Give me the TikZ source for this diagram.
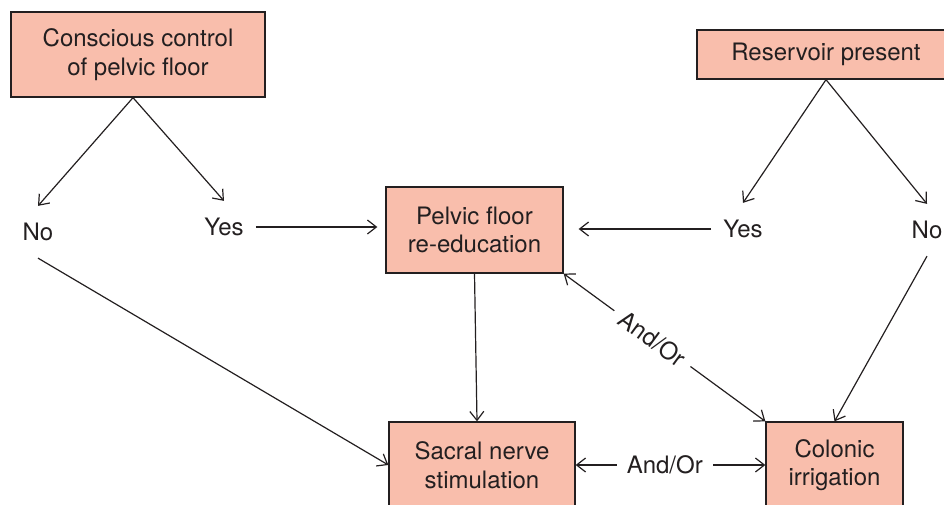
\documentclass[tikz,border=0pt]{standalone}
\usepackage{fontspec}
\setmainfont{TeX Gyre Heros}
\usetikzlibrary{arrows.meta}

\definecolor{boxfill}{RGB}{249,190,172}
\definecolor{ink}{RGB}{35,31,32}

\tikzset{
  box/.style={draw=ink, fill=boxfill, line width=1.3pt, align=center, inner sep=0pt},
  lbl/.style={inner xsep=12pt, inner ysep=17pt},
  link/.style={line width=1.2pt, draw=ink, -{Straight Barb[length=9pt,width=14pt]}},
  twoway/.style={line width=1.2pt, draw=ink, {Straight Barb[length=9pt,width=14pt]}-{Straight Barb[length=9pt,width=14pt]}}
}

\begin{document}
\begin{tikzpicture}[x=1pt,y=-1pt,every node/.style={text=ink,font=\fontsize{24}{28.5}\selectfont}]
	\useasboundingbox (0,0) rectangle (944,505);
	\clip (0,0) rectangle (944,505);

	% decision boxes
	\node[box, minimum width=254pt, minimum height=85pt] (conscious) at (138,54.5) {Conscious control\\of pelvic floor};
	\node[box, minimum width=258pt, minimum height=49pt] (reservoir) at (826,54.5) {Reservoir present};

	% treatments
	\node[box, minimum width=177pt, minimum height=86pt] (pelvic) at (474.5,230) {Pelvic floor\\re-education};
	\node[box, minimum width=186pt, minimum height=86pt] (sacral) at (482,465) {Sacral nerve\\stimulation};
	\node[box, minimum width=137pt, minimum height=86pt] (colonic) at (834.5,465) {Colonic\\irrigation};

	% answers
	\node[lbl] (noL) at (38,232) {No};
	\node[lbl] (yesL) at (224,227) {Yes};
	\node[lbl] (yesR) at (743,229) {Yes};
	\node[lbl] (noR) at (927,230) {No};

	\draw[link] ([xshift=-5pt]conscious.south) -- (noL.north);
	\draw[link] ([xshift=-5pt]conscious.south) -- (yesL.north);
	\draw[link] (reservoir.south) -- (yesR.north);
	\draw[link] (reservoir.south) -- (noR.north);

	\draw[link, shorten >=8pt] (yesL.east) -- (yesL.east -| pelvic.west);
	\draw[link, shorten >=15pt] (yesR.west) -- (yesR.west -| pelvic.east);
	\draw[link] (noL.south) -- (sacral.west);
	\draw[link] (noR.south) -- (colonic.north);
	\draw[link] (pelvic.south) -- ([xshift=-5pt]sacral.north);

	% combinations
	\draw[twoway] (pelvic.south east) -- node[pos=0.44, sloped, fill=white, inner sep=9pt] {And/Or} (colonic.north west);
	\draw[twoway] (sacral.east) -- node[pos=0.47, fill=white, inner sep=10pt] {And/Or} (colonic.west);
\end{tikzpicture}
\end{document}
